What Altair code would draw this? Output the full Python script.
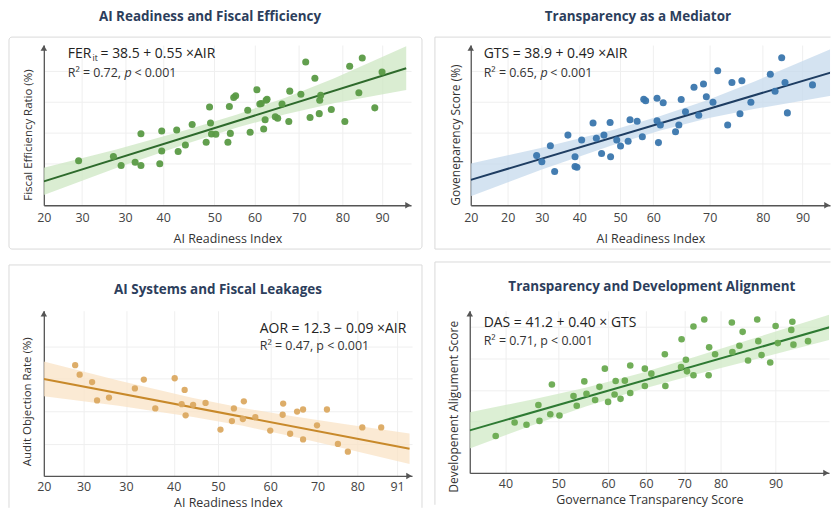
import altair as alt
import pandas as pd

FONT = "Open Sans"

# ---------------- Panel 1: AI Readiness and Fiscal Efficiency ----------------
p1_x = [27.2, 34.4, 36.0, 38.9, 40.1, 40.1, 44.0, 44.4, 44.4, 47.5, 47.8, 49.3, 50.7, 53.6, 54.3,
        54.5, 54.7, 55.6, 58.1, 58.4, 58.6, 59.3, 59.7, 62.2, 62.7, 64.1, 64.7, 65.0, 65.5, 65.8,
        66.0, 66.2, 67.9, 68.4, 69.3, 70.7, 70.9, 73.2, 74.2, 75.1, 76.1, 77.0, 77.1, 77.3, 79.5,
        82.3, 83.3, 85.2, 85.9, 88.5, 90.0]
p1_y = [57.0, 58.6, 55.3, 56.5, 66.9, 55.3, 55.9, 60.6, 67.9, 68.2, 60.4, 62.8, 70.2, 63.8, 76.6,
        70.8, 66.8, 66.7, 63.8, 76.8, 67.0, 80.1, 80.7, 75.4, 67.4, 82.9, 77.7, 77.9, 68.6, 72.0,
        79.1, 79.4, 73.1, 72.5, 77.7, 71.3, 82.4, 81.3, 93.0, 72.8, 87.1, 74.2, 79.1, 80.9, 75.7,
        71.3, 91.5, 81.8, 94.5, 76.3, 89.4]
p1_line_x = [20, 95]
p1_line_y = [49.5, 90.75]
p1_band_x = [20, 35, 50, 60, 70, 80, 95]
p1_band_lo = [44.5, 54.4, 63.5, 69.1, 74.0, 78.0, 82.8]
p1_band_hi = [54.5, 61.1, 68.5, 73.9, 80.0, 87.0, 98.8]
p1_ticks = [20, 27.9, 36.8, 44.7, 55.3, 63.6, 72.8, 81.8, 90]
p1_tick_labels = ["20", "30", "30", "40", "50", "60", "70", "80", "90"]
p1_ygrid = [56.0, 67.3, 78.5, 89.8]

# ---------------- Panel 2: Transparency as a Mediator ----------------
p2_x = [33.9, 35.0, 36.8, 37.7, 40.5, 42.0, 42.0, 42.4, 43.4, 45.8, 46.5, 47.6, 48.1, 49.4, 49.5,
        50.8, 51.6, 53.2, 53.6, 55.1, 56.2, 56.5, 56.9, 59.3, 59.3, 59.6, 60.0, 60.6, 63.2, 63.9,
        64.4, 65.3, 67.1, 68.1, 69.1, 69.7, 71.1, 72.1, 74.2, 75.1, 76.8, 77.2, 79.1, 83.2, 84.2,
        85.6, 86.3, 86.8, 92.1]
p2_y = [57.1, 55.0, 60.5, 51.6, 64.2, 56.7, 53.3, 53.1, 62.5, 68.4, 63.1, 57.8, 64.2, 68.6, 56.7,
        62.5, 60.4, 62.1, 69.5, 69.0, 63.6, 76.6, 76.1, 77.0, 69.2, 61.6, 67.7, 75.4, 65.4, 67.7,
        76.5, 72.3, 80.8, 71.1, 81.9, 77.5, 75.6, 86.5, 67.7, 82.4, 71.6, 83.0, 75.6, 85.3, 79.4,
        91.0, 82.4, 71.9, 81.6]
p2_line_x = [20, 97]
p2_line_y = [48.7, 86.4]
p2_band_x = [20, 35, 50, 60, 70, 80, 97]
p2_band_lo = [43.0, 52.25, 60.8, 65.8, 70.0, 73.3, 78.1]
p2_band_hi = [54.4, 59.85, 66.0, 70.8, 76.4, 82.9, 94.7]
p2_ticks = [20, 27.8, 35.0, 42.9, 51.5, 58.5, 70.4, 81.6, 90]
p2_tick_labels = ["20", "20", "30", "40", "50", "60", "70", "80", "90"]
p2_ygrid = [54.3, 65.0, 75.7, 86.4]

# ---------------- Panel 3: AI Systems and Fiscal Leakages ----------------
p3_x = [26.3, 27.2, 29.7, 30.7, 33.1, 38.3, 40.1, 42.4, 46.3, 47.7, 48.3, 48.5, 50.0, 52.5, 55.5,
        57.8, 58.2, 60.0, 60.2, 62.5, 65.5, 68.0, 68.1, 69.5, 70.9, 72.1, 72.1, 74.9, 76.9, 79.1,
        81.1, 84.0, 87.8]
p3_y = [11.8, 10.9, 10.2, 8.46, 8.73, 9.6, 10.44, 7.7, 10.56, 8.1, 9.45, 7.05, 8.04, 8.22, 5.7,
        6.5, 7.7, 6.7, 8.37, 6.87, 5.6, 7.1, 8.16, 5.3, 7.4, 7.6, 4.76, 6.1, 7.6, 4.34,
        3.6, 5.9, 5.9]
p3_line_x = [20, 93.5]
p3_line_y = [10.5, 3.885]
p3_band_x = [20, 35, 50, 60, 70, 80, 93.5]
p3_band_lo = [8.85, 7.95, 6.9, 6.05, 5.05, 3.95, 2.44]
p3_band_hi = [12.15, 10.35, 8.7, 7.75, 6.95, 6.25, 5.33]
p3_ticks = [20, 28.0, 36.5, 46.1, 55.0, 65.5, 75.0, 83.0, 91]
p3_tick_labels = ["20", "30", "30", "40", "50", "60", "70", "80", "91"]
p3_ygrid = [4.3, 7.4, 10.5, 13.6]

# ---------------- Panel 4: Transparency and Development Alignment ----------------
p4_x = [38.2, 41.7, 43.9, 46.1, 46.3, 48.3, 48.6, 50.0, 52.6, 53.2, 54.6, 55.0, 56.6, 57.4, 58.4,
        59.0, 60.2, 60.4, 61.3, 62.1, 63.1, 63.1, 65.8, 65.8, 67.0, 69.5, 69.6, 72.5, 72.6, 73.4,
        73.6, 74.8, 74.8, 76.8, 77.6, 77.7, 78.8, 81.9, 82.0, 83.3, 83.9, 84.9, 86.6, 86.8, 87.4,
        89.0, 90.0, 90.4, 92.9, 93.1, 93.3, 96.0]
p4_y = [53.1, 56.6, 56.0, 61.1, 57.0, 58.7, 66.4, 58.4, 63.4, 60.9, 67.2, 64.0, 62.4, 65.8, 70.5,
        61.9, 63.8, 67.3, 62.7, 67.4, 71.3, 64.2, 70.5, 66.0, 69.2, 74.2, 66.0, 70.9, 78.1, 72.8,
        69.8, 81.4, 68.8, 83.2, 68.8, 76.0, 74.2, 82.4, 74.8, 76.4, 80.0, 72.6, 83.2, 77.6, 74.0,
        72.1, 81.5, 77.1, 80.5, 82.6, 76.7, 77.6]
p4_line_x = [33.4, 101]
p4_line_y = [54.56, 81.6]
p4_band_x = [33.4, 45, 55, 65, 75, 85, 101]
p4_band_lo = [49.86, 55.9, 60.8, 65.1, 68.9, 72.5, 78.3]
p4_band_hi = [59.26, 62.5, 65.6, 69.3, 73.5, 77.9, 84.9]
p4_ticks = [40, 49.8, 59.0, 66.0, 73.1, 79.8, 90]
p4_tick_labels = ["40", "50", "60", "60", "70", "80", "90"]
p4_ygrid = [56.8, 65.0, 73.2, 81.4]

ONE = pd.DataFrame({"k": [0]})
AXIS_COLOR = "#555555"
GRID_COLOR = "#efefef"
BOX_COLOR = "#dadada"
TITLE_COLOR = "#2c3e5c"


def text_layer(x, y, txt, size, color="#222222", weight="normal", style="normal", align="left"):
    return alt.Chart(ONE).mark_text(
        font=FONT, fontSize=size, fontWeight=weight, fontStyle=style,
        align=align, baseline="middle", color=color
    ).encode(x=alt.value(x), y=alt.value(y), text=alt.value(txt))


def rule_layer(x1, y1, x2, y2):
    return alt.Chart(ONE).mark_rule(color=BOX_COLOR, strokeWidth=1).encode(
        x=alt.value(x1), y=alt.value(y1), x2=alt.value(x2), y2=alt.value(y2))


def make_panel(cfg):
    w, h = cfg["w"], cfg["h"]
    ticks, labels = cfg["ticks"], cfg["labels"]
    expr = ("[" + ",".join("'%s'" % l for l in labels) + "][indexof(["
            + ",".join(str(t) for t in ticks) + "], datum.value)]")
    xscale = alt.Scale(domain=cfg["xdom"], nice=False, zero=False)
    yscale = alt.Scale(domain=cfg["ydom"], nice=False, zero=False)
    xaxis = alt.Axis(values=ticks, labelExpr=expr, ticks=False, tickSize=0, grid=True,
                     gridColor=GRID_COLOR, domainColor=AXIS_COLOR, domainWidth=1.3,
                     labelPadding=cfg.get("lpad", 6), labelFontSize=12.5, labelColor="#444444",
                     labelFont=FONT, labelOverlap=False, labelFlush=False,
                     title=cfg["xtitle"], titleFont=FONT, titleFontSize=12.5,
                     titleFontWeight="normal", titleColor="#333333",
                     titleY=cfg["xty"], titleBaseline="middle")
    yaxis = alt.Axis(values=cfg["ygrid"], labels=False, ticks=False, tickSize=0, grid=True,
                     gridColor=GRID_COLOR, domainColor=AXIS_COLOR, domainWidth=1.3,
                     title=cfg["ytitle"], titleFont=FONT, titleFontSize=cfg["ytsize"],
                     titleFontWeight="normal", titleColor="#333333",
                     titleX=cfg["ytx"], titleY=cfg["yty"], titleAngle=270,
                     titleBaseline="middle", titleAlign="center")
    X = alt.X("x:Q", scale=xscale, axis=xaxis)
    Y = alt.Y("y:Q", scale=yscale, axis=yaxis)

    pts = pd.DataFrame({"x": cfg["px"], "y": cfg["py"]})
    line = pd.DataFrame({"x": cfg["lx"], "y": cfg["ly"]})
    band = pd.DataFrame({"x": cfg["bx"], "y": cfg["blo"], "y2": cfg["bhi"]})

    # panel frame: only the sides that the reference shows inside the picture
    bx0, bx1, by0, by1 = cfg["box"]
    sides = cfg["sides"]
    if sides == "all":
        frame = [alt.Chart(ONE).mark_rect(fill="white", fillOpacity=0, stroke=BOX_COLOR,
                                          strokeWidth=1, cornerRadius=3).encode(
            x=alt.value(bx0), x2=alt.value(bx1), y=alt.value(by0), y2=alt.value(by1))]
    else:
        frame = []
        if "t" in sides:
            frame.append(rule_layer(bx0, by0, bx1, by0))
        if "l" in sides:
            frame.append(rule_layer(bx0, by0, bx0, by1))
        if "r" in sides:
            frame.append(rule_layer(bx1, by0, bx1, by1))
        if "b" in sides:
            frame.append(rule_layer(bx0, by1, bx1, by1))

    band_l = alt.Chart(band).mark_area(color=cfg["band_color"], opacity=0.75, clip=True).encode(
        x=X, y=Y, y2="y2:Q")
    line_l = alt.Chart(line).mark_line(color=cfg["line_color"], strokeWidth=2, clip=True).encode(
        x=X, y=Y)
    pts_l = alt.Chart(pts).mark_circle(color=cfg["pt_color"], opacity=0.95,
                                       size=cfg["pt_size"]).encode(x=X, y=Y)
    xarrow = alt.Chart(ONE).mark_point(shape="triangle-right", filled=True, size=42,
                                       color=AXIS_COLOR, opacity=1).encode(
        x=alt.value(w - 3), y=alt.value(h))
    yarrow = alt.Chart(ONE).mark_point(shape="triangle-up", filled=True, size=42,
                                       color=AXIS_COLOR, opacity=1).encode(
        x=alt.value(0), y=alt.value(3))

    layers = frame + [band_l, line_l, pts_l, xarrow, yarrow]
    for t in cfg["texts"]:
        layers.append(text_layer(**t))
    return alt.layer(*layers).properties(width=w, height=h)


def title_txt(x, y, s):
    return dict(x=x, y=y, txt=s, size=13.5, color=TITLE_COLOR, weight="bold", align="center")


def eq_txt(x, y, s, size=14, style="normal"):
    return dict(x=x, y=y, txt=s, size=size, style=style)


def r2_txt(x, y, s, style="normal"):
    return dict(x=x, y=y, txt=s, size=12.5, color="#333333", style=style)


P2W = 361
P4W = 361

p1 = make_panel(dict(
    w=369, h=161, xdom=[20, 96], ydom=[40.8, 99.2], ticks=p1_ticks, labels=p1_tick_labels,
    ygrid=p1_ygrid, px=p1_x, py=p1_y, lx=p1_line_x, ly=p1_line_y,
    bx=p1_band_x, blo=p1_band_lo, bhi=p1_band_hi,
    pt_color="#5a9a45", line_color="#2e6a2c", band_color="#cde7c3", pt_size=50,
    xtitle="AI Readiness Index", xty=33,
    ytitle="Fiscal Efficiency Ratio (%)", ytsize=11.5, ytx=-15, yty=90,
    box=(-35, 369 + 11, -8, 161 + 44), sides="all",
    texts=[
        title_txt(167, -28.5, "AI Readiness and Fiscal Efficiency"),
        eq_txt(24, 9, "FER"),
        eq_txt(49, 13, "it", size=8.5),
        eq_txt(57, 9, "= 38.5 + 0.55 ×AIR"),
        r2_txt(24, 28, "R² = 0.72,"),
        r2_txt(81, 28, "p", style="italic"),
        r2_txt(91, 28, "< 0.001"),
    ]))

p2 = make_panel(dict(
    w=P2W, h=161, xdom=[20, 20 + P2W / 4.763], ydom=[39.9, 95.4], ticks=p2_ticks,
    labels=p2_tick_labels,
    ygrid=p2_ygrid, px=p2_x, py=p2_y, lx=p2_line_x, ly=p2_line_y,
    bx=p2_band_x, blo=p2_band_lo, bhi=p2_band_hi,
    pt_color="#3a76ad", line_color="#1e3d62", band_color="#c6daec", pt_size=50,
    xtitle="AI Readiness Index", xty=33,
    ytitle="Goveneparency Score (%)", ytsize=12, ytx=-15, yty=90,
    box=(-36, P2W + 0.5, -8, 161 + 44), sides="tlb",
    texts=[
        title_txt(168, -28.5, "Transparency as a Mediator"),
        eq_txt(13, 9, "GTS = 38.9 + 0.49 ×AIR"),
        r2_txt(13, 28, "R² = 0.65,"),
        r2_txt(70, 28, "p", style="italic"),
        r2_txt(80, 28, "< 0.001"),
    ]))

p3 = make_panel(dict(
    w=370, h=166, xdom=[20, 94], ydom=[1.3, 16.96], ticks=p3_ticks, labels=p3_tick_labels,
    ygrid=p3_ygrid, px=p3_x, py=p3_y, lx=p3_line_x, ly=p3_line_y,
    bx=p3_band_x, blo=p3_band_lo, bhi=p3_band_hi,
    pt_color="#dba961", line_color="#c8892a", band_color="#fae3c6", pt_size=40,
    xtitle="AI Readiness Index", xty=27, lpad=4.5,
    ytitle="Audit Objection Rate (%)", ytsize=11.5, ytx=-16, yty=91,
    box=(-35, 370 + 10, -46, 166 + 32), sides="tlr",
    texts=[
        title_txt(175, -21, "AI Systems and Fiscal Leakages"),
        eq_txt(217, 18, "AOR = 12.3 − 0.09 ×AIR"),
        r2_txt(217, 35, "R² = 0.47, p < 0.001"),
    ]))

p4 = make_panel(dict(
    w=P4W, h=163, xdom=[33.4, 33.4 + P4W / 5.43], ydom=[43.55, 85.45], ticks=p4_ticks,
    labels=p4_tick_labels,
    ygrid=p4_ygrid, px=p4_x, py=p4_y, lx=p4_line_x, ly=p4_line_y,
    bx=p4_band_x, blo=p4_band_lo, bhi=p4_band_hi,
    pt_color="#69aa50", line_color="#2e7a33", band_color="#d0e9c6", pt_size=44,
    xtitle="Governance Transparency Score", xty=27, lpad=4.5,
    ytitle="Developenent Aligument Score", ytsize=12, ytx=-16, yty=96,
    box=(-35, P4W + 1.5, -49, 163 + 32), sides="tl",
    texts=[
        title_txt(183, -24, "Transparency and Development Alignment"),
        eq_txt(14, 12, "DAS = 41.2 + 0.40 × GTS"),
        r2_txt(14, 30, "R² = 0.71, p < 0.001"),
    ]))

top = alt.hconcat(p1, p2, spacing=11)
bottom = alt.hconcat(p3, p4, spacing=11)
chart = (alt.vconcat(top, bottom, spacing=11)
         .properties(padding=0, background="white")
         .configure_view(stroke="transparent"))

chart.save("out.html", embed_options={"renderer": "svg", "actions": False})
